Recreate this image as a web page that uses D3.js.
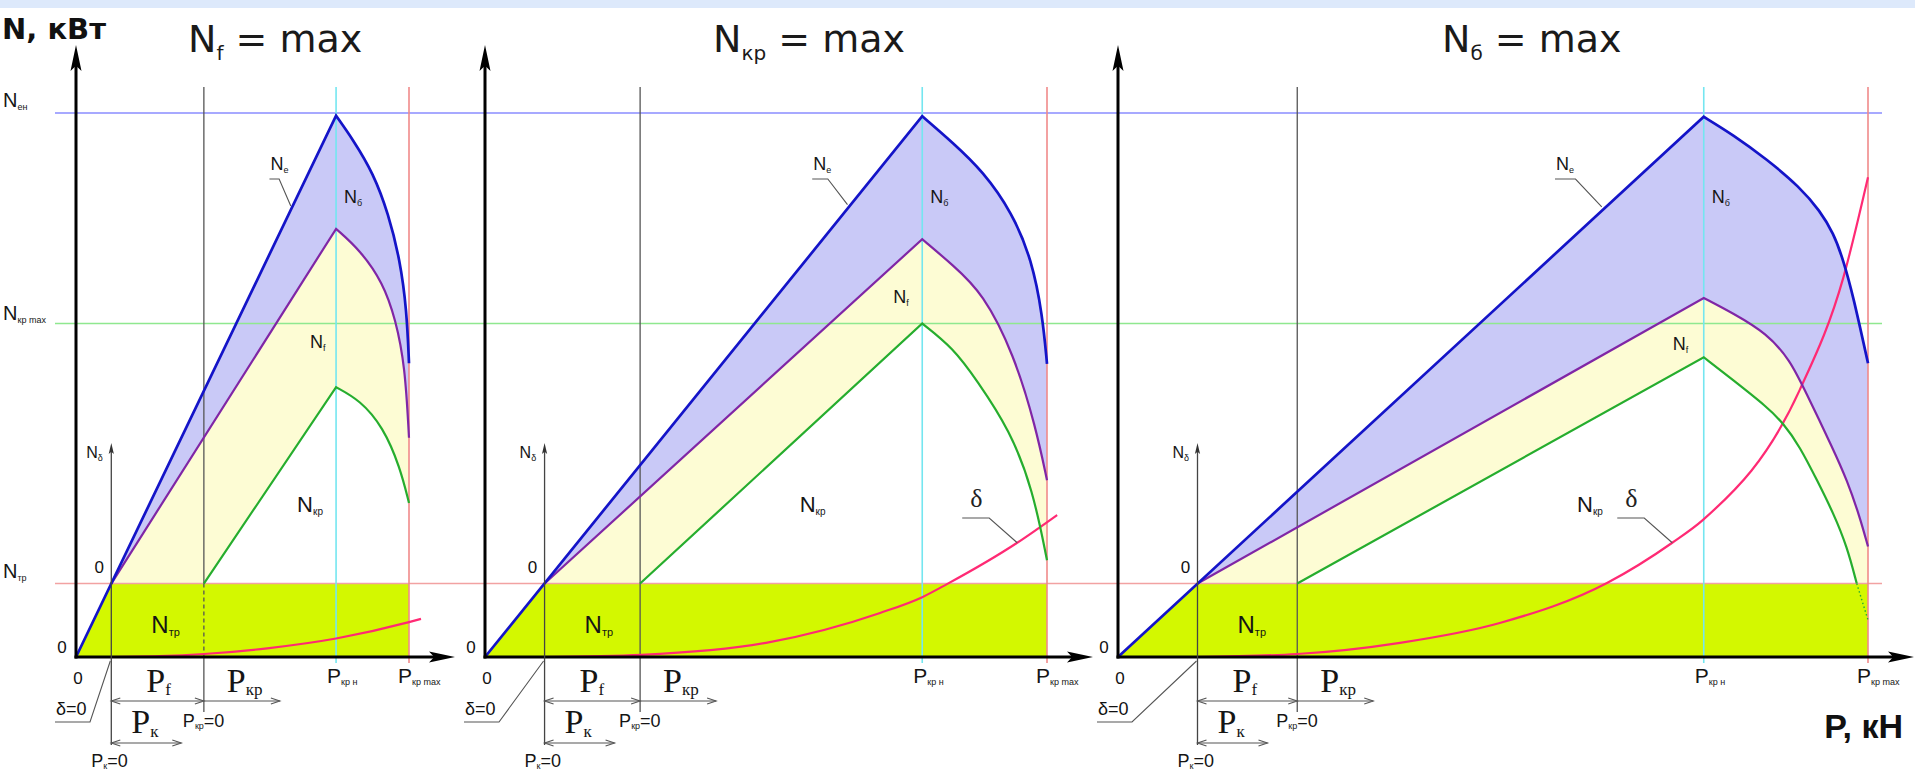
<!DOCTYPE html>
<html>
<head>
<meta charset="utf-8">
<script src="https://cdn.jsdelivr.net/npm/d3@7"></script>
<style>
  html, body { margin: 0; padding: 0; background: #ffffff; }
  svg { display: block; }
</style>
</head>
<body>
<svg id="chart" width="1915" height="774"></svg>
<script>
// ---- Power levels, relative units (N_ен = 100) ----
const N_EN = 100;
const N_KR_MAX = 61.3;
const N_TR = 13.5;

// ---- Panel titles: which power is at its maximum ----
const titleSubs = ["f", "кр", "б"];

// ---- Key tractive forces in each panel, % of P_кр max ----
const pK0  = [10.6, 10.6, 10.6];   // P_к = 0, δ = 0
const pKr0 = [38.4, 27.6, 23.9];   // P_кр = 0
const pKrN = [78.1, 77.8, 78.1];   // P_кр н
const P_MAX = 100;                 // P_кр max

// ---- Values at P_кр н ----
const nePeak  = [99.5, 99.4, 99.3];
const nfPeak  = [78.7, 76.8, 66.0];
const nkrPeak = [49.6, 61.3, 55.1];

// ---- Falling branches beyond P_кр н, [P, N] ----
const neFall = [
  [[83.3, 95.0], [89.3, 88.9], [93.8, 81.5], [97.3, 73.0], [99.3, 63.8], [100, 54.0]],
  [[83.3, 94.5], [88.6, 89.3], [93.8, 81.7], [97.3, 73.0], [99.2, 62.8], [100, 53.9]],
  [[82.0, 96.0], [86.5, 91.5], [90.9, 86.4], [93.6, 82.0], [95.4, 77.9], [96.7, 73.0], [98.0, 66.5], [100, 54.0]]
];
const nfFall = [
  [[85.3, 74.8], [92.2, 68.8], [96.0, 62.0], [98.8, 53.5], [100, 40.3]],
  [[83.3, 72.0], [88.6, 66.9], [94.1, 55.7], [98.0, 42.3], [100, 32.5]],
  [[82.0, 63.2], [86.5, 59.5], [89.6, 54.6], [91.6, 49.0], [95.4, 38.1], [97.2, 32.5], [98.9, 25.8], [100, 20.3]]
];
const nkrFall = [
  [[85.3, 47.2], [92.2, 42.3], [97.3, 34.9], [100, 28.3]],
  [[83.3, 56.8], [87.5, 50.9], [93.4, 41.7], [97.5, 30.7], [100, 17.8]],
  [[82.0, 50.9], [86.5, 46.0], [88.7, 43.0], [90.9, 38.7], [93.2, 32.5], [95.4, 26.4], [97.2, 20.3], [98.5, 13.5]]
];
// continuation of N_кр below N_тр (third panel only)
const nkrTail = [null, null, [[98.5, 13.5], [100, 6.8]]];

// ---- Slip power δ ----
const deltaPts = [
  [[10.6, 0], [25, 0.15], [38.4, 0.55], [57.4, 1.6], [78.1, 3.4], [100, 6.4], [103.6, 7.0]],
  [[10.6, 0], [27.8, 0.4], [50, 2.6], [70.3, 8.1], [77.8, 11.0], [82.2, 13.4], [94.7, 21.0], [101.8, 26.1]],
  [[10.6, 0], [23.9, 0.55], [37.6, 2.6], [50.9, 6.25], [65.2, 13.6], [73.9, 21.0], [78.0, 25.2], [90.9, 49.1], [96.7, 69.7], [100, 88.2]]
];

// ================= drawing =================
const svg = d3.select("#chart");
const SANS = "'Liberation Sans', Arial, sans-serif";
const WIDE = "'DejaVu Sans', Verdana, sans-serif";
const SERIF = "'Liberation Serif', 'Times New Roman', serif";

const C = {
  band: "#dde9fb",
  fillBlue: "#c9c9f7",
  fillYellow: "#fdfcd4",
  fillGreen: "#d3f800",
  ne: "#1414c8",
  nf: "#8026a6",
  nkr: "#26ad2e",
  delta: "#ff2a74",
  refEn: "#8a8cff",
  refKr: "#8fe88f",
  refTr: "#f2a2a2",
  cyan: "#74e6f0",
  red: "#f08a8a",
  grey: "#555"
};

// shared power scale, one force scale per panel
const yS = d3.scaleLinear().domain([0, N_EN]).range([657, 113]);
const panelRange = [[76, 409], [485, 1047], [1118, 1868]];
const xS = panelRange.map(r => d3.scaleLinear().domain([0, P_MAX]).range(r));

const baseY = yS(0);
const refTop = 87;
const fallCurve = d3.curveBasis;

svg.append("rect").attr("x", 0).attr("y", 0).attr("width", 1915).attr("height", 8).attr("fill", C.band);

svg.append("defs").append("clipPath").attr("id", "aboveTr")
  .append("rect").attr("x", 0).attr("y", 0).attr("width", 1915).attr("height", yS(N_TR));

// straight rise to the peak, then a smooth falling branch
function branchPath(i, startP, startN, peakN, fall) {
  const xs = xS[i];
  const rise = `M${xs(startP)},${yS(startN)}L${xs(pKrN[i])},${yS(peakN)}`;
  const fallPath = d3.line()
    .x(d => xs(d[0])).y(d => yS(d[1]))
    .curve(fallCurve)([[pKrN[i], peakN], ...fall]);
  return rise + fallPath.replace(/^M[^A-Za-z]*/, "");
}
function areaPath(i, startP, startN, peakN, fall) {
  const xs = xS[i];
  const last = fall[fall.length - 1];
  return branchPath(i, startP, startN, peakN, fall) +
    `L${xs(last[0])},${yS(N_TR)}L${xs(startP)},${yS(N_TR)}Z`;
}

function subText(g, x, y, main, sub, size, opt = {}) {
  const t = g.append("text")
    .attr("x", x).attr("y", y)
    .attr("font-family", opt.family || SANS)
    .attr("font-size", size)
    .attr("fill", opt.fill || "#151515");
  if (opt.weight) t.attr("font-weight", opt.weight);
  if (opt.anchor) t.attr("text-anchor", opt.anchor);
  t.append("tspan").text(main);
  const dy = opt.subDy !== undefined ? opt.subDy : size * 0.25;
  if (sub) t.append("tspan").attr("font-size", opt.subSize || size * 0.5).attr("dy", dy).text(sub);
  if (opt.tail) t.append("tspan").attr("font-size", size).attr("dy", sub ? -dy : 0).text(opt.tail);
  return t;
}

function arrowHead(g, x, y, angleDeg, len, halfW, fill) {
  g.append("path")
    .attr("d", `M0,0L${-len},${-halfW}L${-len * 0.8},0L${-len},${halfW}Z`)
    .attr("transform", `translate(${x},${y}) rotate(${angleDeg})`)
    .attr("fill", fill);
}
function openArrow(g, x, y, dir, stroke) {
  // small line arrowhead, dir = 1 points right, -1 points left
  g.append("path")
    .attr("d", `M${x - dir * 9},${y - 3}L${x},${y}L${x - dir * 9},${y + 3}`)
    .attr("fill", "none").attr("stroke", stroke).attr("stroke-width", 1.1);
}

const gFill = svg.append("g").attr("clip-path", "url(#aboveTr)");
const gGreen = svg.append("g");
const gRef = svg.append("g");
const gCurves = svg.append("g");
const gAxes = svg.append("g");
const gText = svg.append("g");

// ---- region fills ----
for (let i = 0; i < 3; i++) {
  gFill.append("path").attr("d", areaPath(i, 0, 0, nePeak[i], neFall[i])).attr("fill", C.fillBlue);
  gFill.append("path").attr("d", areaPath(i, pK0[i], N_TR, nfPeak[i], nfFall[i])).attr("fill", C.fillYellow);
  gFill.append("path").attr("d", areaPath(i, pKr0[i], N_TR, nkrPeak[i], nkrFall[i])).attr("fill", "#ffffff");

  const xs = xS[i];
  const green = d3.line().x(d => xs(d[0])).y(d => yS(d[1]));
  gGreen.append("path")
    .attr("d", green([[0, 0], [pK0[i], N_TR], [P_MAX, N_TR], [P_MAX, 0]]) + "Z")
    .attr("fill", C.fillGreen);
}

// ---- reference levels ----
[[N_EN, C.refEn], [N_KR_MAX, C.refKr], [N_TR, C.refTr]].forEach(([v, col]) => {
  gRef.append("line").attr("x1", 55).attr("x2", 1882)
    .attr("y1", yS(v)).attr("y2", yS(v))
    .attr("stroke", col).attr("stroke-width", 1.6);
});

for (let i = 0; i < 3; i++) {
  const xs = xS[i];
  gRef.append("line").attr("x1", xs(pKrN[i])).attr("x2", xs(pKrN[i]))
    .attr("y1", refTop).attr("y2", baseY + 6).attr("stroke", C.cyan).attr("stroke-width", 1.6);
  gRef.append("line").attr("x1", xs(P_MAX)).attr("x2", xs(P_MAX))
    .attr("y1", refTop).attr("y2", baseY + 6).attr("stroke", C.red).attr("stroke-width", 1.6);
  if (i === 0) {
    gRef.append("line").attr("x1", xs(pKr0[i])).attr("x2", xs(pKr0[i]))
      .attr("y1", refTop).attr("y2", yS(N_TR)).attr("stroke", C.grey).attr("stroke-width", 1.3);
    gRef.append("line").attr("x1", xs(pKr0[i])).attr("x2", xs(pKr0[i]))
      .attr("y1", yS(N_TR)).attr("y2", baseY).attr("stroke", C.grey).attr("stroke-width", 1.3)
      .attr("stroke-dasharray", "4,3");
    gRef.append("line").attr("x1", xs(pKr0[i])).attr("x2", xs(pKr0[i]))
      .attr("y1", baseY).attr("y2", 712).attr("stroke", C.grey).attr("stroke-width", 1.3);
  } else {
    gRef.append("line").attr("x1", xs(pKr0[i])).attr("x2", xs(pKr0[i]))
      .attr("y1", refTop).attr("y2", 712).attr("stroke", C.grey).attr("stroke-width", 1.3);
  }
}

// ---- curves ----
for (let i = 0; i < 3; i++) {
  const xs = xS[i];
  const line = d3.line().x(d => xs(d[0])).y(d => yS(d[1]));
  gCurves.append("path").attr("d", line.curve(d3.curveMonotoneX)(deltaPts[i]))
    .attr("fill", "none").attr("stroke", C.delta).attr("stroke-width", 2.2);
  gCurves.append("path").attr("d", branchPath(i, pKr0[i], N_TR, nkrPeak[i], nkrFall[i]))
    .attr("fill", "none").attr("stroke", C.nkr).attr("stroke-width", 2.2);
  if (nkrTail[i]) {
    gCurves.append("path").attr("d", d3.line().x(d => xs(d[0])).y(d => yS(d[1]))(nkrTail[i]))
      .attr("fill", "none").attr("stroke", C.nkr).attr("stroke-width", 1.4).attr("stroke-dasharray", "1.5,2.5");
  }
  gCurves.append("path").attr("d", branchPath(i, pK0[i], N_TR, nfPeak[i], nfFall[i]))
    .attr("fill", "none").attr("stroke", C.nf).attr("stroke-width", 2.2);
  gCurves.append("path").attr("d", branchPath(i, 0, 0, nePeak[i], neFall[i]))
    .attr("fill", "none").attr("stroke", C.ne).attr("stroke-width", 2.7);
}

// ---- axes ----
for (let i = 0; i < 3; i++) {
  const xs = xS[i];
  const x0 = xs(0);
  const xTip = xs(P_MAX) + 46;
  gAxes.append("line").attr("x1", x0).attr("x2", x0).attr("y1", baseY + 1.5).attr("y2", 60)
    .attr("stroke", "#000").attr("stroke-width", 3);
  arrowHead(gAxes, x0, 45, -90, 26, 5.5, "#000");
  gAxes.append("line").attr("x1", x0 - 1.5).attr("x2", xTip - 14).attr("y1", baseY).attr("y2", baseY)
    .attr("stroke", "#000").attr("stroke-width", 3);
  arrowHead(gAxes, xTip, baseY, 0, 26, 5.5, "#000");

  // slip axis N_δ starting at P_к = 0
  const xk = xs(pK0[i]);
  gAxes.append("line").attr("x1", xk).attr("x2", xk).attr("y1", 745).attr("y2", 450)
    .attr("stroke", "#444").attr("stroke-width", 1.3);
  arrowHead(gAxes, xk, 443, -90, 11, 2.6, "#333");

  // force ranges under the axis
  const xr = xs(pKr0[i]);
  gAxes.append("line").attr("x1", xk).attr("x2", xr + 76).attr("y1", 701).attr("y2", 701)
    .attr("stroke", "#555").attr("stroke-width", 1.1);
  openArrow(gAxes, xk, 701, -1, "#555");
  openArrow(gAxes, xr, 701, 1, "#555");
  openArrow(gAxes, xr + 76, 701, 1, "#555");
  gAxes.append("line").attr("x1", xk).attr("x2", xk + 70).attr("y1", 743).attr("y2", 743)
    .attr("stroke", "#555").attr("stroke-width", 1.1);
  openArrow(gAxes, xk, 743, -1, "#555");
  openArrow(gAxes, xk + 70, 743, 1, "#555");

  // δ = 0 leader
  gAxes.append("path")
    .attr("d", `M${x0 - 21},722L${x0 + 14},722L${xk - 1},661`)
    .attr("fill", "none").attr("stroke", "#555").attr("stroke-width", 1.1);
}

// ---- titles and axis names ----
const titleX = [188, 713, 1442];
titleSubs.forEach((s, i) => {
  subText(gText, titleX[i], 52, "N", s, 38, { family: WIDE, subSize: 20, subDy: 8, tail: " = max", fill: "#1a1a1a" });
});
gText.append("text").attr("x", 2).attr("y", 39).attr("font-family", WIDE).attr("font-weight", "bold")
  .attr("font-size", 29).attr("fill", "#111").text("N, кВт");
gText.append("text").attr("x", 1903).attr("y", 738).attr("text-anchor", "end").attr("font-family", SANS)
  .attr("font-weight", "bold").attr("font-size", 34).attr("fill", "#111").text("P, кН");

subText(gText, 3, yS(N_EN) - 6, "N", "ен", 20, { subSize: 9, subDy: 3 });
subText(gText, 3, yS(N_KR_MAX) - 4, "N", "кр max", 20, { subSize: 9, subDy: 3 });
subText(gText, 3, yS(N_TR) - 6, "N", "тр", 20, { subSize: 9, subDy: 3 });

// ---- per panel annotations ----
const neLabelP = 58.4;
const nfLabel = [[-26, 56.8], [-29, 65.1], [-31, 56.4]];
const nkrLabelP = [66.4, 56.0, 61.2];
const deltaLabelP = [null, 94.7, 73.9];

for (let i = 0; i < 3; i++) {
  const xs = xS[i];
  const x0 = xs(0), xk = xs(pK0[i]), xr = xs(pKr0[i]), xn = xs(pKrN[i]), xm = xs(P_MAX);

  // curve names
  subText(gText, xs(neLabelP), 170, "N", "e", 18, { subSize: 9, subDy: 3 });
  const neAt = nePeak[i] * 64.5 / pKrN[i];
  gText.append("path")
    .attr("d", `M${xs(neLabelP) - 1},179L${xs(61)},179L${xs(64.5)},${yS(neAt) - 4}`)
    .attr("fill", "none").attr("stroke", "#555").attr("stroke-width", 1.1);
  subText(gText, xn + 8, 203, "N", "б", 18, { subSize: 9, subDy: 3 });
  subText(gText, xn + nfLabel[i][0], yS(nfLabel[i][1]), "N", "f", 18, { subSize: 9, subDy: 3 });
  subText(gText, xs(nkrLabelP[i]), 512, "N", "кр", 22, { subSize: 10, subDy: 3 });
  subText(gText, xk + 40, 633, "N", "тр", 24, { subSize: 11, subDy: 3 });

  if (deltaLabelP[i] !== null) {
    const dx = xs(deltaLabelP[i]);
    const pts = deltaPts[i];
    let dN = 0;
    for (let k = 1; k < pts.length; k++) {
      if (pts[k][0] >= deltaLabelP[i]) { dN = pts[k][1]; break; }
    }
    gText.append("text").attr("x", dx - 47).attr("y", 507).attr("font-family", SERIF)
      .attr("font-size", 26).attr("fill", "#222").text("δ");
    gText.append("path").attr("d", `M${dx - 55},518L${dx - 28},518L${dx},${yS(dN)}`)
      .attr("fill", "none").attr("stroke", "#555").attr("stroke-width", 1.1);
  }

  // slip axis name
  subText(gText, xk - 25, 458, "N", "δ", 16, { subSize: 9, subDy: 3 });

  // zero marks
  gText.append("text").attr("x", x0 - 14).attr("y", 653).attr("text-anchor", "middle")
    .attr("font-family", SANS).attr("font-size", 17).attr("fill", "#111").text("0");
  gText.append("text").attr("x", x0 + 2).attr("y", 684).attr("text-anchor", "middle")
    .attr("font-family", SANS).attr("font-size", 17).attr("fill", "#111").text("0");
  gText.append("text").attr("x", xk - 12).attr("y", 573).attr("text-anchor", "middle")
    .attr("font-family", SANS).attr("font-size", 17).attr("fill", "#111").text("0");

  // axis points
  subText(gText, xn - 9, 683, "P", "кр н", 21, { subSize: 9, subDy: 2 });
  subText(gText, xm - 11, 683, "P", "кр max", 21, { subSize: 9, subDy: 2 });

  // force components
  subText(gText, xk + 35, 692, "P", "f", 34, { family: SERIF, subSize: 17, subDy: 3 });
  subText(gText, xr + 23, 692, "P", "кр", 34, { family: SERIF, subSize: 17, subDy: 3 });
  subText(gText, xk + 20, 733, "P", "к", 34, { family: SERIF, subSize: 17, subDy: 4 });
  subText(gText, xr - 21, 727, "P", "кр", 18, { subSize: 9, subDy: 2, tail: "=0" });
  subText(gText, xk - 20, 767, "P", "к", 18, { subSize: 9, subDy: 2, tail: "=0" });
  gText.append("text").attr("x", x0 - 20).attr("y", 715).attr("font-family", SANS)
    .attr("font-size", 18).attr("fill", "#111").text("δ=0");
}
</script>
</body>
</html>
